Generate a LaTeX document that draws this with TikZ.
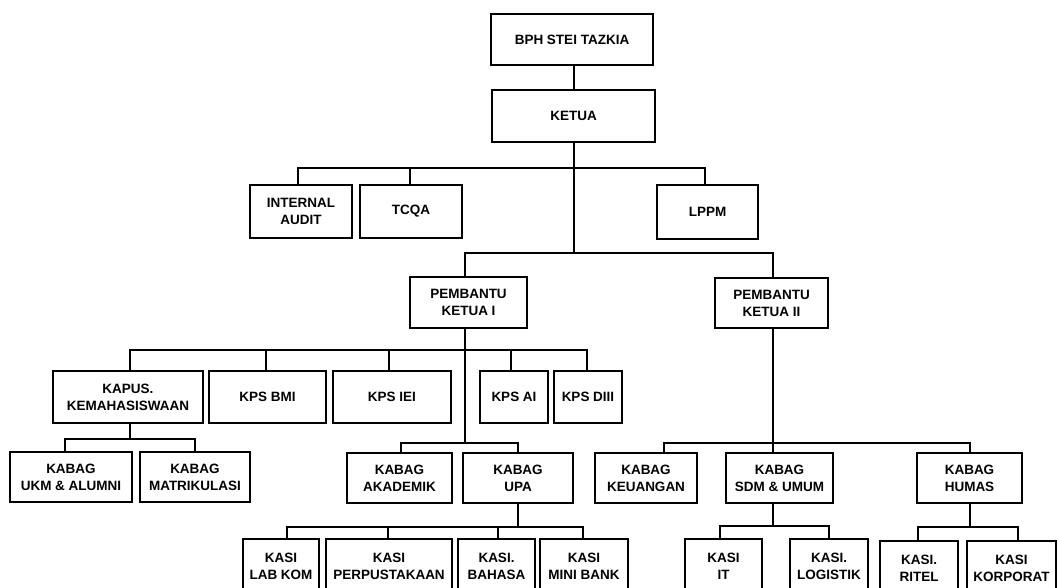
\documentclass[tikz,border=0pt]{standalone}
\usepackage{fontspec}
\setmainfont{Liberation Sans}
\tikzset{
  orgbox/.style={draw, line width=2.6pt, align=center, inner sep=0pt,
    font=\bfseries\fontsize{13.5}{17}\selectfont},
  link/.style={line width=2pt},
}
\newcommand\obox[6]{\node[orgbox, minimum width={#4-#2}, minimum height={#5-#3}] (#1) at ({(#2+#4)/2},{(#3+#5)/2}) {#6};}
\begin{document}
\begin{tikzpicture}[x=1pt,y=-1pt]
\useasboundingbox (0,0) rectangle (1058,587);
\clip (0,0) rectangle (1058,587);
% boxes
\obox{bph}{491}{14}{653}{65}{BPH STEI TAZKIA}
\obox{ketua}{492}{90}{655}{142}{KETUA}
\obox{ia}{250}{185}{352}{238}{INTERNAL\\AUDIT}
\obox{tcqa}{360}{185}{462}{238}{TCQA}
\obox{lppm}{657}{185}{758}{239}{LPPM}
\obox{pka}{410}{277}{527}{328}{PEMBANTU\\KETUA I}
\obox{pkb}{715}{278}{828}{328}{PEMBANTU\\KETUA II}
\obox{kapus}{53}{371}{203}{423}{KAPUS.\\KEMAHASISWAAN}
\obox{bmi}{209}{371}{326}{423}{KPS BMI}
\obox{iei}{333}{371}{451}{423}{KPS IEI}
\obox{ai}{480}{371}{548}{423}{KPS AI}
\obox{diii}{554}{371}{622}{423}{KPS DIII}
\obox{ukm}{10}{452}{132}{502}{KABAG\\UKM \& ALUMNI}
\obox{matrik}{140}{452}{250}{502}{KABAG\\MATRIKULASI}
\obox{akad}{347}{453}{452}{503}{KABAG\\AKADEMIK}
\obox{upa}{463}{453}{573}{503}{KABAG\\UPA}
\obox{keu}{595}{453}{697}{503}{KABAG\\KEUANGAN}
\obox{sdm}{726}{453}{833}{503}{KABAG\\SDM \& UMUM}
\obox{humas}{917}{453}{1022}{503}{KABAG\\HUMAS}
\obox{lab}{243}{539}{319}{593}{KASI\\LAB KOM}
\obox{perpus}{326}{539}{452}{593}{KASI\\PERPUSTAKAAN}
\obox{bahasa}{458}{539}{535}{593}{KASI.\\BAHASA}
\obox{mini}{540}{539}{628}{593}{KASI\\MINI BANK}
\obox{it}{685}{539}{762}{593}{KASI\\IT}
\obox{logis}{790}{539}{868}{593}{KASI.\\LOGISTIK}
\obox{ritel}{880}{541}{958}{595}{KASI.\\RITEL}
\obox{korp}{967}{541}{1056}{595}{KASI\\KORPORAT}
% bus points
\coordinate (busA) at (573.5,168);
\coordinate (busB) at (573.5,253);
\coordinate (busC) at (465,349.5);
\coordinate (busD) at (465,443);
\coordinate (busE) at (130,439);
\coordinate (busF) at (773,443);
\coordinate (busG) at (518,527);
\coordinate (busH) at (773,526);
\coordinate (busI) at (970,527);
% connectors
\draw[link] ([xshift=2]bph.south) -- ([xshift=0.5]ketua.north);
\draw[link] (ketua.south) -- (busB);
\draw[link] ([xshift=-3]ia.north) |- (busA);
\draw[link] ([xshift=-1]tcqa.north) |- (busA);
\draw[link] ([xshift=-2.5]lppm.north) |- (busA);
\draw[link] ([xshift=-3.5]pka.north) |- (busB);
\draw[link] ([xshift=1.5]pkb.north) |- (busB);
\draw[link] ([xshift=-3.5]pka.south) -- (busD);
\draw[link] ([xshift=2]kapus.north) |- (busC);
\draw[link] ([xshift=-1.5]bmi.north) |- (busC);
\draw[link] ([xshift=-3]iei.north) |- (busC);
\draw[link] ([xshift=-3]ai.north) |- (busC);
\draw[link] ([xshift=-1]diii.north) |- (busC);
\draw[link] ([xshift=2]kapus.south) -- (busE);
\draw[link] ([xshift=-6]ukm.north) |- (busE);
\draw[link] (matrik.north) |- (busE);
\draw[link] ([xshift=1.5]akad.north) |- (busD);
\draw[link] (upa.north) |- (busD);
\draw[link] ([xshift=1.5]pkb.south) -- (busF);
\draw[link] ([xshift=18]keu.north) |- (busF);
\draw[link] ([xshift=-6.5]sdm.north) |- (busF);
\draw[link] ([xshift=0.5]humas.north) |- (busF);
\draw[link] (upa.south) -- (busG);
\draw[link] ([xshift=6]lab.north) |- (busG);
\draw[link] ([xshift=-1]perpus.north) |- (busG);
\draw[link] ([xshift=1.5]bahasa.north) |- (busG);
\draw[link] ([xshift=-1]mini.north) |- (busG);
\draw[link] ([xshift=-6.5]sdm.south) -- (busH);
\draw[link] ([xshift=-3.5]it.north) |- (busH);
\draw[link] (logis.north) |- (busH);
\draw[link] ([xshift=0.5]humas.south) -- (busI);
\draw[link] ([xshift=-1]ritel.north) |- (busI);
\draw[link] ([xshift=6.5]korp.north) |- (busI);
\end{tikzpicture}
\end{document}
